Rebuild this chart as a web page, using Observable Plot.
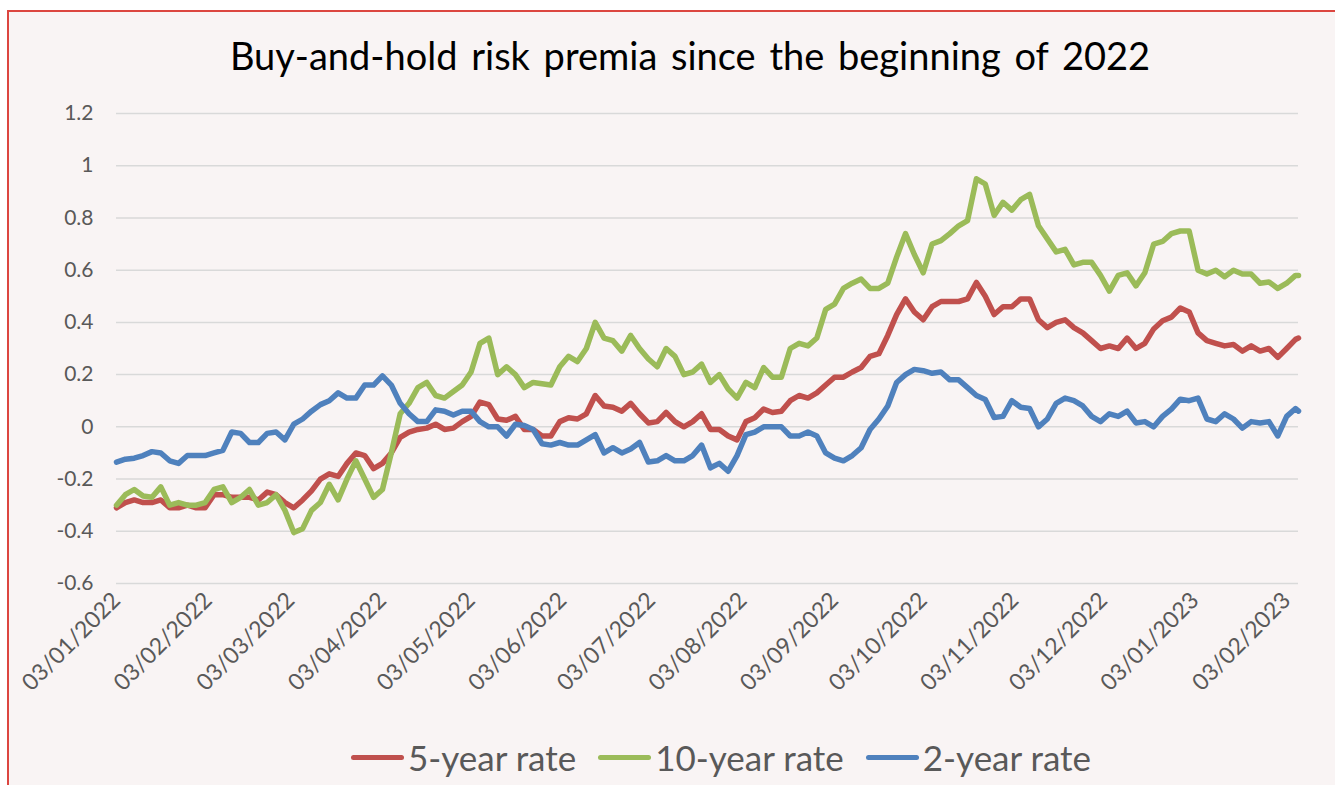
<!DOCTYPE html>
<html>
<head>
<meta charset="utf-8">
<script src="https://cdn.jsdelivr.net/npm/d3@7"></script>
<script src="https://cdn.jsdelivr.net/npm/@observablehq/plot@0.6"></script>
<style>
  html, body { margin: 0; padding: 0; background: #ffffff; width: 1335px; height: 785px; overflow: hidden; }
  #frame { position: absolute; left: 7px; top: 10px; width: 1360px; height: 800px; box-sizing: border-box;
           border-left: 2px solid #dc4640; border-top: 2px solid #dc4640; background: #f9f4f4; }
  #title { position: absolute; left: 0; top: 32px; width: 1380px; text-align: center;
           font-family: Lato, "Open Sans", sans-serif; font-size: 38px; color: #000; word-spacing: 4px; white-space: nowrap; }
  #chart { position: absolute; left: 0; top: 90px; }
  #legend { position: absolute; left: 0; top: 736px; width: 1442px; display: flex; justify-content: center; align-items: center;
            font-family: Lato, "Open Sans", sans-serif; font-size: 35px; color: #595959; }
  .item { display: flex; align-items: center; margin: 0 11px; }
  .sw { width: 53px; height: 5px; border-radius: 3px; margin-right: 4px; }
</style>
</head>
<body>
<div id="frame"></div>
<div id="title">Buy-and-hold risk premia since the beginning of 2022</div>
<div id="chart"></div>
<div id="legend"></div>
<script>
const dates = [
  "2022-01-03","2022-01-06","2022-01-09","2022-01-12","2022-01-15","2022-01-18","2022-01-21","2022-01-24","2022-01-27","2022-01-30",
  "2022-02-02","2022-02-05","2022-02-08","2022-02-11","2022-02-14","2022-02-17","2022-02-20","2022-02-23","2022-02-26","2022-03-01",
  "2022-03-04","2022-03-07","2022-03-10","2022-03-13","2022-03-16","2022-03-19","2022-03-22","2022-03-25","2022-03-28","2022-03-31",
  "2022-04-03","2022-04-06","2022-04-09","2022-04-12","2022-04-15","2022-04-18","2022-04-21","2022-04-24","2022-04-27","2022-04-30",
  "2022-05-03","2022-05-06","2022-05-09","2022-05-12","2022-05-15","2022-05-18","2022-05-21","2022-05-24","2022-05-27","2022-05-30",
  "2022-06-02","2022-06-05","2022-06-08","2022-06-11","2022-06-14","2022-06-17","2022-06-20","2022-06-23","2022-06-26","2022-06-29",
  "2022-07-02","2022-07-05","2022-07-08","2022-07-11","2022-07-14","2022-07-17","2022-07-20","2022-07-23","2022-07-26","2022-07-29",
  "2022-08-01","2022-08-04","2022-08-07","2022-08-10","2022-08-13","2022-08-16","2022-08-19","2022-08-22","2022-08-25","2022-08-28",
  "2022-08-31","2022-09-03","2022-09-06","2022-09-09","2022-09-12","2022-09-15","2022-09-18","2022-09-21","2022-09-24","2022-09-27",
  "2022-09-30","2022-10-03","2022-10-06","2022-10-09","2022-10-12","2022-10-15","2022-10-18","2022-10-21","2022-10-24","2022-10-27",
  "2022-10-30","2022-11-02","2022-11-05","2022-11-08","2022-11-11","2022-11-14","2022-11-17","2022-11-20","2022-11-23","2022-11-26",
  "2022-11-29","2022-12-02","2022-12-05","2022-12-08","2022-12-11","2022-12-14","2022-12-17","2022-12-20","2022-12-23","2022-12-26",
  "2022-12-29","2023-01-01","2023-01-04","2023-01-07","2023-01-10","2023-01-13","2023-01-16","2023-01-19","2023-01-22","2023-01-25",
  "2023-01-28","2023-01-31","2023-02-03","2023-02-06","2023-02-07"
];

const fiveYear = [
  -0.31,-0.29,-0.28,-0.29,-0.29,-0.28,-0.31,-0.31,-0.30,-0.31,
  -0.31,-0.26,-0.26,-0.27,-0.27,-0.27,-0.28,-0.25,-0.26,-0.29,
  -0.31,-0.28,-0.245,-0.20,-0.18,-0.19,-0.14,-0.10,-0.11,-0.16,
  -0.14,-0.10,-0.04,-0.02,-0.01,-0.005,0.01,-0.01,-0.005,0.02,
  0.04,0.095,0.085,0.03,0.025,0.04,-0.01,-0.01,-0.035,-0.035,
  0.02,0.035,0.03,0.05,0.12,0.08,0.075,0.06,0.09,0.05,
  0.015,0.02,0.055,0.02,0.0,0.02,0.05,-0.01,-0.01,-0.035,
  -0.05,0.02,0.035,0.068,0.055,0.06,0.10,0.12,0.11,0.13,
  0.16,0.19,0.19,0.21,0.227,0.27,0.28,0.35,0.43,0.49,
  0.44,0.41,0.46,0.48,0.48,0.48,0.49,0.553,0.50,0.43,
  0.46,0.46,0.49,0.49,0.41,0.38,0.40,0.41,0.38,0.36,
  0.33,0.30,0.31,0.30,0.34,0.30,0.32,0.375,0.406,0.42,
  0.455,0.44,0.36,0.33,0.32,0.31,0.315,0.29,0.31,0.29,
  0.30,0.266,0.30,0.335,0.34
];

const tenYear = [
  -0.30,-0.26,-0.24,-0.265,-0.27,-0.23,-0.30,-0.29,-0.30,-0.30,
  -0.29,-0.24,-0.23,-0.29,-0.27,-0.24,-0.30,-0.29,-0.26,-0.32,
  -0.405,-0.39,-0.32,-0.29,-0.22,-0.28,-0.20,-0.13,-0.20,-0.27,
  -0.24,-0.10,0.05,0.09,0.15,0.17,0.12,0.11,0.135,0.16,
  0.21,0.32,0.34,0.20,0.23,0.20,0.15,0.17,0.165,0.16,
  0.23,0.27,0.25,0.30,0.40,0.34,0.33,0.29,0.35,0.30,
  0.26,0.23,0.30,0.27,0.20,0.21,0.24,0.17,0.20,0.145,
  0.11,0.17,0.15,0.227,0.19,0.19,0.30,0.32,0.31,0.34,
  0.45,0.47,0.53,0.55,0.566,0.53,0.53,0.55,0.65,0.74,
  0.66,0.59,0.70,0.713,0.74,0.77,0.79,0.95,0.93,0.81,
  0.86,0.83,0.87,0.89,0.77,0.72,0.67,0.68,0.62,0.63,
  0.63,0.58,0.52,0.58,0.59,0.54,0.59,0.70,0.71,0.74,
  0.75,0.75,0.60,0.585,0.60,0.575,0.60,0.585,0.585,0.55,
  0.555,0.53,0.55,0.58,0.58
];

const twoYear = [
  -0.135,-0.124,-0.12,-0.11,-0.095,-0.10,-0.13,-0.14,-0.11,-0.11,
  -0.11,-0.10,-0.09,-0.02,-0.025,-0.06,-0.06,-0.025,-0.02,-0.05,
  0.01,0.03,0.06,0.085,0.10,0.13,0.11,0.11,0.16,0.16,
  0.195,0.16,0.09,0.05,0.02,0.02,0.065,0.06,0.045,0.06,
  0.06,0.02,0.0,0.0,-0.035,0.01,0.005,-0.01,-0.065,-0.07,
  -0.06,-0.07,-0.07,-0.05,-0.03,-0.10,-0.08,-0.10,-0.085,-0.06,
  -0.135,-0.13,-0.11,-0.13,-0.13,-0.11,-0.07,-0.157,-0.14,-0.17,
  -0.11,-0.03,-0.02,0.0,0.0,0.0,-0.035,-0.035,-0.02,-0.035,
  -0.10,-0.12,-0.13,-0.11,-0.08,-0.01,0.03,0.08,0.17,0.20,
  0.22,0.215,0.205,0.21,0.18,0.18,0.15,0.12,0.105,0.036,
  0.04,0.10,0.075,0.07,0.0,0.03,0.09,0.11,0.10,0.08,
  0.04,0.02,0.05,0.04,0.06,0.015,0.02,0.0,0.04,0.068,
  0.106,0.10,0.11,0.03,0.02,0.05,0.03,-0.005,0.02,0.015,
  0.02,-0.035,0.04,0.07,0.06
];

const seriesNames = ["5-year rate", "10-year rate", "2-year rate"];
const seriesColors = ["#c0504d", "#9bbb59", "#4f81bd"];
const tickDates = ["2022-01-03","2022-02-03","2022-03-03","2022-04-03","2022-05-03","2022-06-03","2022-07-03",
                   "2022-08-03","2022-09-03","2022-10-03","2022-11-03","2022-12-03","2023-01-03","2023-02-03"];
const yTicks = [-0.6, -0.4, -0.2, 0, 0.2, 0.4, 0.6, 0.8, 1, 1.2];
const xDomain = ["2022-01-03", "2023-02-07"];

const parse = d3.utcParse("%Y-%m-%d");
const rows = [];
[fiveYear, tenYear, twoYear].forEach((vals, i) => {
  vals.forEach((v, j) => rows.push({date: parse(dates[j]), value: v, series: seriesNames[i]}));
});

const chart = Plot.plot({
  width: 1335,
  height: 603,
  marginLeft: 116,
  marginRight: 37,
  marginTop: 23,
  marginBottom: 110,
  style: {background: "transparent", fontFamily: "Lato, 'Open Sans', sans-serif", fontSize: "21px", color: "#595959", overflow: "visible"},
  x: {type: "utc", domain: xDomain.map(parse), label: null},
  y: {domain: [-0.6, 1.2], label: null},
  color: {domain: seriesNames, range: seriesColors},
  marks: [
    Plot.gridY(yTicks, {stroke: "#d9d9d9", strokeOpacity: 1, strokeWidth: 1.5}),
    Plot.axisY(yTicks, {tickSize: 0, tickPadding: 23, fill: "#595959",
      tickFormat: d => (Math.round(d * 10) / 10).toString(), label: null}),
    Plot.axisX(tickDates.map(parse), {tickSize: 0, tickPadding: 13, tickRotate: -45, fill: "#595959", fontSize: 23,
      tickFormat: d3.utcFormat("%d/%m/%Y"), label: null}),
    Plot.lineY(rows, {x: "date", y: "value", z: "series", stroke: "series",
      strokeWidth: 5.5, strokeLinejoin: "round", strokeLinecap: "round"})
  ]
});
document.getElementById("chart").appendChild(chart);

const legend = d3.select("#legend");
seriesNames.forEach((name, i) => {
  const item = legend.append("div").attr("class", "item");
  item.append("div").attr("class", "sw").style("background", seriesColors[i]);
  item.append("span").text(name);
});
</script>
</body>
</html>
